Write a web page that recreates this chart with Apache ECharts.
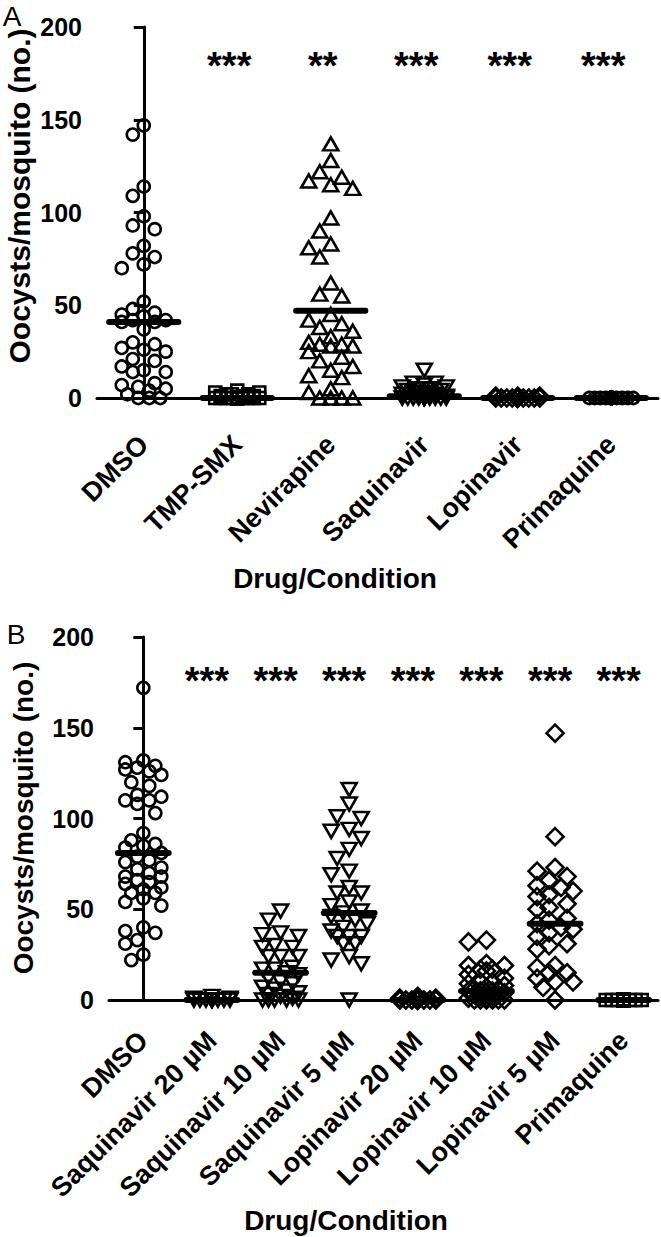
<!DOCTYPE html>
<html><head><meta charset="utf-8">
<script src="https://cdn.jsdelivr.net/npm/echarts@6/dist/echarts.min.js"></script>
<style>html,body{margin:0;padding:0;background:#fff}#c{width:661px;height:1237px}</style>
</head><body><div id="c"></div>
<script>
// ---------- DATA ----------
const catsA = ['DMSO', 'TMP-SMX', 'Nevirapine', 'Saquinavir', 'Lopinavir', 'Primaquine'];
const starsA = ['', '***', '**', '***', '***', '***'];
const medianA = [41, 0, 47, 1, 0, 0];
const a_dmso = [147, 142, 114, 109, 98, 93, 91, 82, 78, 76, 72, 70, 52, 48, 46, 45, 44, 42, 42, 41, 41, 37, 30, 29, 27, 26, 25, 21, 20, 17, 15, 14, 14, 8, 7, 6, 5, 4, 2, 0, 0, 0];
const a_tmp = [4, 3, 3, 2, 2, 2, 1, 1, 1, 0, 0, 0, 0, 0, 0, 0, 0, 0, 0, 0, 0, 0, 0, 0, 0];
const a_nev = [137, 128, 122, 119, 117, 115, 113, 97, 90, 83, 81, 76, 62, 56, 55, 45, 42, 40, 38, 36, 33, 30, 29, 29, 28, 28, 25, 22, 20, 17, 15, 12, 11, 5, 3, 0, 0, 0, 0];
const a_saq = [15, 8, 8, 7, 6, 6, 5, 5, 4, 4, 3, 3, 2, 2, 1, 1, 1, 0, 0, 0, 0, 0, 0, 0, 0, 0, 0, 0, 0, 0, 0, 0];
const a_lop = [1, 1, 1, 0, 0, 0, 0, 0, 0, 0, 0, 0, 0, 0, 0, 0, 0, 0, 0, 0, 0, 0, 0, 0, 0, 0, 0, 0];
const a_pri = [0, 0, 0, 0, 0, 0, 0, 0, 0, 0, 0, 0, 0, 0, 0, 0, 0, 0, 0, 0, 0, 0, 0, 0, 0];

const catsB = ['DMSO', 'Saquinavir 20 µM', 'Saquinavir 10 µM', 'Saquinavir 5 µM', 'Lopinavir 20 µM', 'Lopinavir 10 µM', 'Lopinavir 5 µM', 'Primaquine'];
const starsB = ['', '***', '***', '***', '***', '***', '***', '***'];
const medianB = [81, 0, 15, 48, 0, 5, 42, 0];
const b_dmso = [172, 132, 131, 129, 128, 127, 126, 124, 120, 118, 113, 112, 110, 110, 108, 103, 92, 88, 86, 85, 84, 81, 79, 77, 76, 73, 72, 70, 68, 68, 66, 65, 64, 62, 61, 59, 59, 56, 54, 52, 40, 38, 37, 33, 31, 25, 22];
const b_saq20 = [2, 1, 1, 0, 0, 0, 0, 0, 0, 0, 0, 0, 0, 0, 0, 0, 0, 0];
const b_saq10 = [49, 44, 37, 36, 35, 30, 29, 29, 24, 24, 24, 18, 17, 17, 15, 14, 12, 10, 9, 7, 6, 5, 4, 3, 2, 1, 0, 0, 0, 0, 0];
const b_saq5 = [116, 108, 101, 100, 94, 93, 89, 83, 78, 71, 69, 62, 59, 59, 54, 52, 49, 48, 46, 44, 42, 40, 38, 35, 35, 35, 31, 31, 24, 22, 20, 0];
const b_lop20 = [2, 1, 1, 0, 0, 0, 0, 0, 0, 0, 0, 0, 0, 0, 0, 0, 0, 0, 0, 0, 0, 0, 0];
const b_lop10 = [33, 32, 20, 19, 19, 17, 17, 16, 14, 12, 10, 10, 9, 8, 7, 6, 6, 5, 5, 5, 4, 4, 3, 3, 2, 2, 1, 1, 0, 0, 0, 0, 0, 0];
const b_lop5 = [147, 90, 73, 71, 68, 66, 63, 62, 60, 58, 57, 53, 51, 50, 45, 44, 42, 40, 39, 37, 35, 31, 30, 28, 19, 18, 15, 15, 12, 10, 10, 7, 0];
const b_pri = [0, 0, 0, 0, 0, 0, 0, 0, 0, 0, 0, 0, 0, 0, 0, 0, 0, 0, 0, 0];

const yTicks = [0, 50, 100, 150, 200];

// ---------- LAYOUT ----------
const FONT = '"Liberation Sans", Arial, Helvetica, sans-serif';
const gA = {left: 97, top: 27, width: 561, height: 371};
const gB = {left: 109, top: 637, width: 549, height: 363};

const SYM = {
  circle: 'circle',
  square: 'rect',
  tri: 'triangle',
  dtri: 'path://M0,0L20,0L10,17.3Z',
  diamond: 'diamond'
};
const SIZE = {circle: 12, square: 12, tri: [15, 13], dtri: [15, 13], diamond: 17};

function swarm(values, pxY, step, maxOff, minDist) {
  const idx = values.map((v, i) => i).sort((a, b) => values[b] - values[a]);
  const cands = [0];
  for (let k = 1; k * step <= maxOff + 1e-6; k++) cands.push(-k * step, k * step);
  for (let k = 0; (k + 0.5) * step <= maxOff + 1e-6; k++) cands.push(-(k + 0.5) * step, (k + 0.5) * step);
  const placed = [], offs = new Array(values.length);
  for (const i of idx) {
    const y = values[i] * pxY;
    let best = 0, bestD = -1;
    for (const c of cands) {
      let dmin = Infinity;
      for (const p of placed) { const d = Math.hypot(p.x - c, p.y - y); if (d < dmin) dmin = d; }
      if (dmin >= minDist) { best = c; bestD = Infinity; break; }
      if (dmin > bestD + 0.01) { bestD = dmin; best = c; }
    }
    placed.push({x: best, y: y});
    offs[i] = best;
  }
  return offs;
}

function groupSeries(values, ci, sym, grid, nCat, xAxisIndex, yAxisIndex, step, maxOff) {
  const pxY = grid.height / 200;
  const catW = grid.width / nCat;
  const offs = swarm(values, pxY, step, maxOff, 13);
  return {
    type: 'scatter', xAxisIndex: xAxisIndex, yAxisIndex: yAxisIndex, clip: false,
    symbol: SYM[sym], symbolSize: SIZE[sym], symbolKeepAspect: false,
    itemStyle: {color: 'rgba(0,0,0,0)', borderColor: '#000', borderWidth: 2.6, opacity: 1},
    emphasis: {disabled: true},
    data: values.map((v, i) => [ci + offs[i] / catW, v]),
    z: 3
  };
}

function medianSeries(meds, xAxisIndex, yAxisIndex) {
  return {
    type: 'custom', xAxisIndex: xAxisIndex, yAxisIndex: yAxisIndex, z: 5, clip: false,
    data: meds.map((m, i) => [i, m]),
    renderItem: function (params, api) {
      const p = api.coord([api.value(0), api.value(1)]);
      const w = api.size([1, 0])[0] * 0.37;
      return {type: 'line', shape: {x1: p[0] - w, y1: p[1], x2: p[0] + w, y2: p[1]},
        style: {stroke: '#000', lineWidth: 6, lineCap: 'round'}};
    }
  };
}

function starSeries(stars, yVal, dx, xAxisIndex, yAxisIndex) {
  return {
    type: 'custom', xAxisIndex: xAxisIndex, yAxisIndex: yAxisIndex, z: 5, clip: false,
    data: stars.map((s, i) => [i, yVal]),
    renderItem: function (params, api) {
      const p = api.coord([api.value(0), api.value(1)]);
      return {type: 'text', x: p[0] + dx, y: p[1],
        style: {text: stars[params.dataIndex], fill: '#000', align: 'center', verticalAlign: 'middle',
          textAlign: 'center', textVerticalAlign: 'middle', font: 'bold 38px ' + FONT}};
    }
  };
}

function catAxis(cats, gi, margin, fs) {
  return {
    type: 'category', gridIndex: gi, data: cats, boundaryGap: true,
    axisLine: {lineStyle: {color: '#000', width: 3}},
    axisTick: {alignWithLabel: true, length: 9, lineStyle: {color: '#000', width: 3}},
    axisLabel: {rotate: 45, margin: margin, color: '#000', fontWeight: 'bold', fontSize: fs, fontFamily: FONT, interval: 0},
    splitLine: {show: false}
  };
}
function valXAxis(n, gi) {
  return {type: 'value', gridIndex: gi, min: -0.5, max: n - 0.5, show: false};
}
function yAxis(gi) {
  return {
    type: 'value', gridIndex: gi, min: yTicks[0], max: yTicks[yTicks.length - 1], interval: 50,
    axisLine: {show: true, lineStyle: {color: '#000', width: 3}},
    axisTick: {show: true, length: 10, lineStyle: {color: '#000', width: 3}},
    axisLabel: {margin: 15, color: '#000', fontWeight: 'bold', fontSize: 25, fontFamily: FONT},
    splitLine: {show: false}
  };
}

const series = [];
const groupsA = [[a_dmso, 'circle'], [a_tmp, 'square'], [a_nev, 'tri'], [a_saq, 'dtri'], [a_lop, 'diamond'], [a_pri, 'circle']];
groupsA.forEach((g, i) => series.push(groupSeries(g[0], i, g[1], gA, catsA.length, 1, 0, 11, 22)));
const groupsB = [[b_dmso, 'circle'], [b_saq20, 'dtri'], [b_saq10, 'dtri'], [b_saq5, 'dtri'], [b_lop20, 'diamond'], [b_lop10, 'diamond'], [b_lop5, 'diamond'], [b_pri, 'square']];
groupsB.forEach((g, i) => series.push(groupSeries(g[0], i, g[1], gB, catsB.length, 3, 1, 12, 18)));
series.push(medianSeries(medianA, 1, 0));
series.push(medianSeries(medianB, 3, 1));
series.push(starSeries(starsA, 179, -8, 1, 0));
series.push(starSeries(starsB, 176, -5, 3, 1));

function gtext(t, x, y, font, rot) {
  return {type: 'text', x: x, y: y, rotation: rot || 0,
    style: {text: t, fill: '#000', font: font, align: 'center', verticalAlign: 'middle', textAlign: 'center', textVerticalAlign: 'middle'}};
}

const chart = echarts.init(document.getElementById('c'), null, {renderer: 'svg'});
chart.setOption({
  animation: false,
  backgroundColor: '#fff',
  grid: [gA, gB],
  xAxis: [catAxis(catsA, 0, 42, 27), valXAxis(catsA.length, 0), catAxis(catsB, 1, 36, 27), valXAxis(catsB.length, 1)],
  yAxis: [yAxis(0), yAxis(1)],
  graphic: [
    gtext('A', 12, 16, 'normal 28px ' + FONT),
    gtext('B', 16, 634, 'normal 28px ' + FONT),
    gtext('Oocysts/mosquito (no.)', 19, 196, 'bold 30px ' + FONT, Math.PI / 2),
    gtext('Oocysts/mosquito (no.)', 23, 818, 'bold 28px ' + FONT, Math.PI / 2),
    gtext('Drug/Condition', 335, 578, 'bold 28px ' + FONT),
    gtext('Drug/Condition', 346, 1220, 'bold 28px ' + FONT)
  ],
  series: series
});
</script></body></html>
